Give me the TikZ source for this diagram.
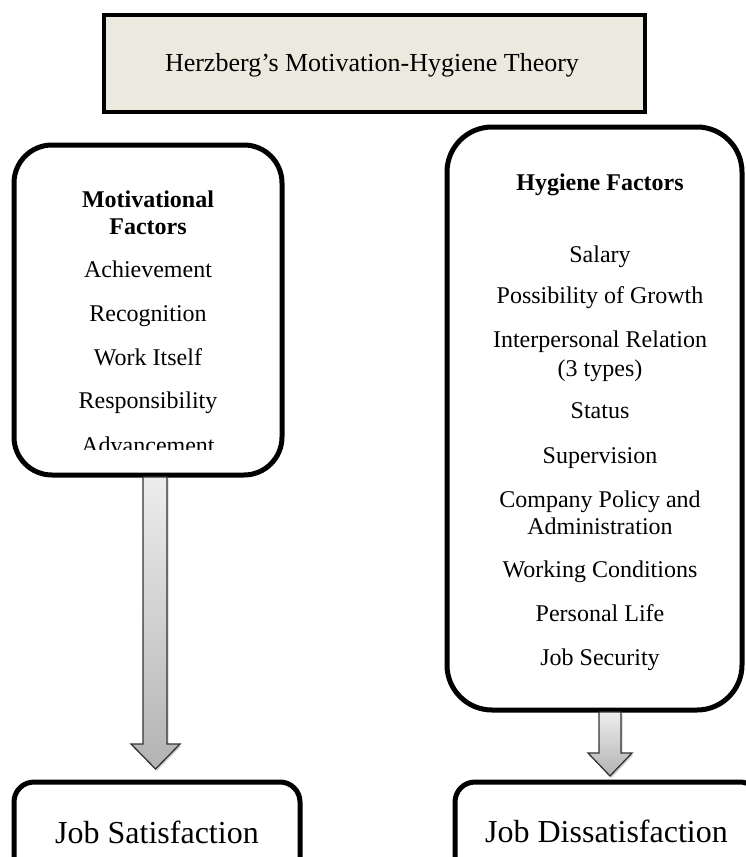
\documentclass[tikz,border=0pt]{standalone}
\usepackage{fontspec}
\setmainfont{Liberation Serif}
\definecolor{titlefill}{HTML}{ECEADF}
\begin{document}
\begin{tikzpicture}[x=1pt,y=-1pt,
  item/.style={anchor=base, inner sep=0pt, font=\fontsize{24}{28}\selectfont},
  head/.style={item, font=\fontsize{24}{28}\selectfont\bfseries},
  bigbox/.style={draw, line width=5pt, rounded corners=38pt, inner sep=0pt},
  endbox/.style={draw, line width=5pt, rounded corners=20pt, inner sep=0pt},
  endtext/.style={anchor=base, inner sep=0pt, font=\fontsize{32}{36}\selectfont},
  blockarrow/.style={draw=black!80, line width=1.3pt, line join=miter, top color=black!7, bottom color=black!30},
  arrowshadow/.style={fill=black!35, opacity=0.5}
]
\useasboundingbox (0,0) rectangle (746,857);
\clip (0,0) rectangle (746,857);
\fill[white] (0,0) rectangle (746,857);

% title
\node[draw, line width=4pt, fill=titlefill, minimum width=541pt, minimum height=97pt, inner sep=0pt] (title) at (374.5,63.5) {};
\node[anchor=base, inner sep=0pt, font=\fontsize{26}{30}\selectfont] (titletext) at (372,71) {Herzberg’s Motivation-Hygiene Theory};

% left box
\node[bigbox, minimum width=268pt, minimum height=330pt] (lbox) at (148,310) {};
\node[head] (m1) at (148,207) {Motivational};
\node[head] (m2) at (148,234) {Factors};
\node[item] (a1) at (148,277) {Achievement};
\node[item] (a2) at (148,321) {Recognition};
\node[item] (a3) at (148,365) {Work Itself};
\node[item] (a4) at (148,408) {Responsibility};
\begin{scope}
\clip (20,150) rectangle (276,449);
\node[item] (a5) at (148,453) {Advancement};
\end{scope}

% right box
\node[bigbox, rounded corners=45pt, minimum width=295pt, minimum height=583pt] (rbox) at (594.5,418.5) {};
\node[head] (h0) at (600,190) {Hygiene Factors};
\node[item] (h1) at (600,262) {Salary};
\node[item] (h2) at (600,303) {Possibility of Growth};
\node[item] (h3) at (600,347) {Interpersonal Relation};
\node[item] (h3b) at (600,376) {(3 types)};
\node[item] (h4) at (600,418) {Status};
\node[item] (h5) at (600,463) {Supervision};
\node[item] (h6) at (600,507) {Company Policy and};
\node[item] (h6b) at (600,534) {Administration};
\node[item] (h7) at (600,577) {Working Conditions};
\node[item] (h8) at (600,621) {Personal Life};
\node[item] (h9) at (600,665) {Job Security};

% bottom boxes
\node[endbox, minimum width=286pt, minimum height=118pt] (sat) at (157,841) {};
\node[endtext] (sattext) at (157,843) {Job Satisfaction};
\node[endbox, minimum width=305pt, minimum height=118pt] (dis) at (607.5,841) {};
\node[endtext] (distext) at (606.5,842) {Job Dissatisfaction};

% block arrows (from box to box)
\path[arrowshadow, shift={(1.5,1.8)}] (143,477) -- (167,477) -- (167,744) -- (180,744) -- (155.5,769) -- (131,744) -- (143,744) -- cycle;
\path[blockarrow] (143,477) -- (167,477) -- (167,744) -- (180,744) -- (155.5,769) -- (131,744) -- (143,744) -- cycle;

\path[arrowshadow, shift={(1.5,1.8)}] (599,712) -- (621,712) -- (621,753) -- (632,753) -- (610,776) -- (588,753) -- (599,753) -- cycle;
\path[blockarrow] (599,712) -- (621,712) -- (621,753) -- (632,753) -- (610,776) -- (588,753) -- (599,753) -- cycle;
\end{tikzpicture}
\end{document}
